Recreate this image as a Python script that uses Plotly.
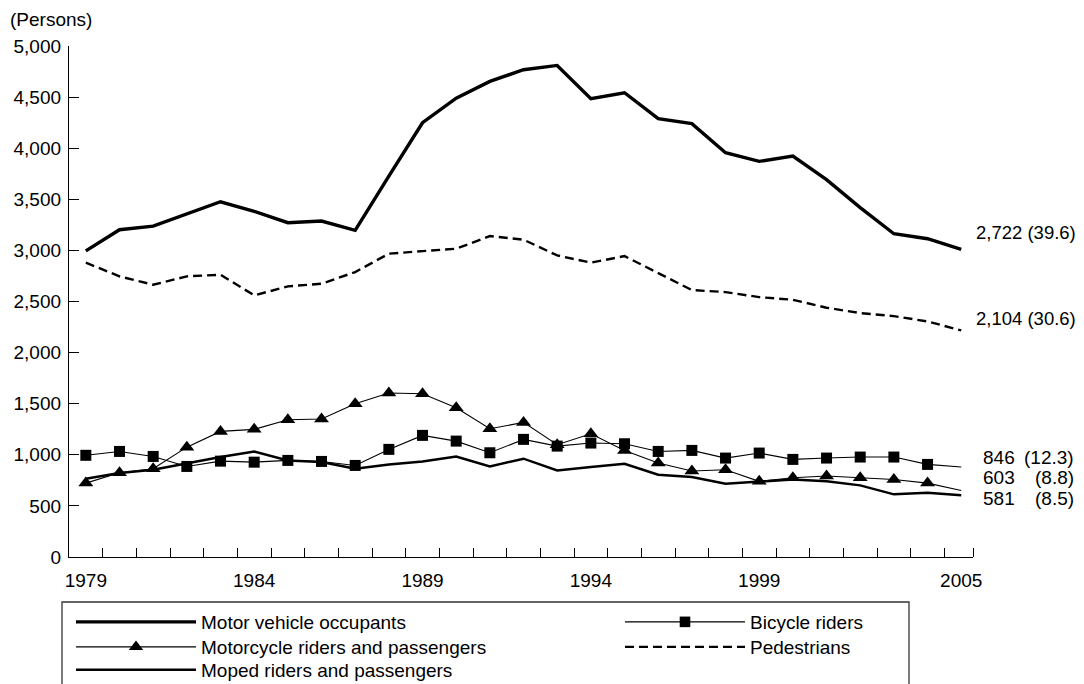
import plotly.graph_objects as go

years = list(range(1979, 2006))

motor_vehicle = [2995, 3202, 3238, 3359, 3476, 3382, 3271, 3287, 3196, 3727,
                 4249, 4490, 4654, 4768, 4810, 4484, 4543, 4289, 4240, 3956,
                 3871, 3923, 3692, 3418, 3163, 3114, 3010]
pedestrians = [2880, 2746, 2664, 2746, 2762, 2560, 2648, 2674, 2788, 2968,
               2993, 3016, 3140, 3105, 2951, 2880, 2944, 2778, 2612, 2592,
               2543, 2517, 2439, 2387, 2357, 2305, 2217]
bicycle = [995, 1033, 984, 886, 938, 928, 945, 935, 896, 1053,
           1190, 1134, 1020, 1151, 1085, 1115, 1108, 1033, 1043, 968,
           1017, 955, 968, 978, 978, 906, 880]
motorcycle = [723, 825, 864, 1075, 1229, 1249, 1343, 1350, 1500, 1604,
              1598, 1461, 1255, 1317, 1099, 1206, 1043, 919, 841, 854,
              740, 776, 792, 776, 759, 723, 651]
moped = [766, 821, 854, 919, 978, 1033, 945, 929, 864, 906,
         935, 984, 886, 962, 847, 880, 913, 805, 782, 717,
         740, 759, 740, 701, 613, 629, 603]

names = ["Motor vehicle occupants", "Bicycle riders",
         "Motorcycle riders and passengers", "Pedestrians",
         "Moped riders and passengers"]
end_counts = ["2,722", "2,104", "846", "603", "581"]
end_shares = ["(39.6)", "(30.6)", "(12.3)", "(8.8)", "(8.5)"]

year_labels = [1979, 1984, 1989, 1994, 1999, 2005]
y_ticks = list(range(0, 5001, 500))

FONT = "Liberation Sans, Arial, Helvetica, sans-serif"
FS = 19

# page body margin offset (8px) compensated: figure is drawn at (8, 8)
OFF = 8
W, H = 1084 - OFF, 684 - OFF
L, R, T = 69 - OFF, 111, 46 - OFF
B = H - (557 - OFF)
pw, ph = W - L - R, H - T - B


def px_x(p):
    return (p - OFF - L) / pw


def px_y(p):
    return (H - B - (p - OFF)) / ph


n = len(years)
marker_sizes_sq = [11] * (n - 1) + [0]
marker_sizes_tri = [13] * (n - 1) + [0]

fig = go.Figure()
fig.add_trace(go.Scatter(x=years, y=motor_vehicle, name=names[0], mode="lines",
                         line=dict(color="black", width=3.4), legend="legend"))
fig.add_trace(go.Scatter(x=years, y=bicycle, name=names[1], mode="lines+markers",
                         line=dict(color="black", width=1.1),
                         marker=dict(symbol="square", size=marker_sizes_sq, color="black",
                                     opacity=1, line=dict(width=0)),
                         legend="legend2"))
fig.add_trace(go.Scatter(x=years, y=motorcycle, name=names[2], mode="lines+markers",
                         line=dict(color="black", width=1.1),
                         marker=dict(symbol="triangle-up", size=marker_sizes_tri, color="black",
                                     opacity=1, line=dict(width=0)),
                         legend="legend3"))
fig.add_trace(go.Scatter(x=years, y=pedestrians, name=names[3], mode="lines",
                         line=dict(color="black", width=2.4, dash="9px,5px"),
                         legend="legend4"))
fig.add_trace(go.Scatter(x=years, y=moped, name=names[4], mode="lines",
                         line=dict(color="black", width=2.5), legend="legend5"))

# end-of-line labels
series_ends = [motor_vehicle[-1], pedestrians[-1], bicycle[-1], motorcycle[-1], moped[-1]]
shifts = [17, 12, 10, 13, -3]
annotations = []
for i, (val, sh) in enumerate(zip(series_ends, shifts)):
    if i < 2:
        annotations.append(dict(x=years[-1], y=val, xref="x", yref="y",
                                text=end_counts[i] + " " + end_shares[i],
                                xanchor="left", yanchor="middle", xshift=13, yshift=sh,
                                showarrow=False,
                                font=dict(family=FONT, size=18.5, color="black")))
    else:
        annotations.append(dict(x=years[-1], y=val, xref="x", yref="y",
                                text=end_counts[i], xanchor="left", yanchor="middle",
                                xshift=20, yshift=sh, showarrow=False,
                                font=dict(family=FONT, size=FS, color="black")))
        annotations.append(dict(x=years[-1], y=val, xref="x", yref="y",
                                text=end_shares[i], xanchor="right", yanchor="middle",
                                xshift=115, yshift=sh, showarrow=False,
                                font=dict(family=FONT, size=FS, color="black")))

annotations.append(dict(x=px_x(8), y=px_y(20), xref="paper", yref="paper", text="(Persons)",
                        xanchor="left", yanchor="middle", showarrow=False,
                        font=dict(family=FONT, size=FS, color="black")))


def legend_box(xp, yp):
    return dict(x=px_x(xp), y=px_y(yp), xanchor="left", yanchor="middle",
                orientation="v", itemwidth=120, borderwidth=0,
                bgcolor="rgba(0,0,0,0)", tracegroupgap=0,
                font=dict(family=FONT, size=FS, color="black"))


fig.update_layout(
    width=W, height=H,
    margin=dict(l=L, r=R, t=T, b=B, autoexpand=False),
    paper_bgcolor="white", plot_bgcolor="white",
    font=dict(family=FONT, size=FS, color="black"),
    showlegend=True,
    xaxis=dict(range=[1978.5, 2005.35], tickmode="array", tickvals=year_labels,
               ticktext=[str(y) for y in year_labels], ticks="", showgrid=False,
               zeroline=False, showline=True, linecolor="black", linewidth=1.3,
               ticklabelstandoff=6,
               minor=dict(tickmode="array",
                          tickvals=[y + 0.5 for y in years[:-1]] + [2005.35],
                          ticks="inside", ticklen=9, tickcolor="black", tickwidth=1.2,
                          showgrid=False),
               tickfont=dict(family=FONT, size=FS, color="black")),
    yaxis=dict(range=[0, 5000], tickmode="array", tickvals=y_ticks, tickformat=",",
               ticks="inside", ticklen=10, tickcolor="black", tickwidth=1.2,
               showgrid=False, zeroline=False, showline=True, linecolor="black",
               linewidth=1.3, ticklabelstandoff=3,
               tickfont=dict(family=FONT, size=FS, color="black")),
    legend=legend_box(71, 622),
    legend2=legend_box(620, 622),
    legend3=legend_box(71, 647),
    legend4=legend_box(620, 647),
    legend5=legend_box(71, 670),
    shapes=[dict(type="rect", xref="paper", yref="paper",
                 x0=px_x(62), x1=px_x(909), y0=px_y(602), y1=px_y(720),
                 line=dict(color="#333333", width=1.3), fillcolor="rgba(0,0,0,0)")],
    annotations=annotations,
)

fig.write_html("out.html")
